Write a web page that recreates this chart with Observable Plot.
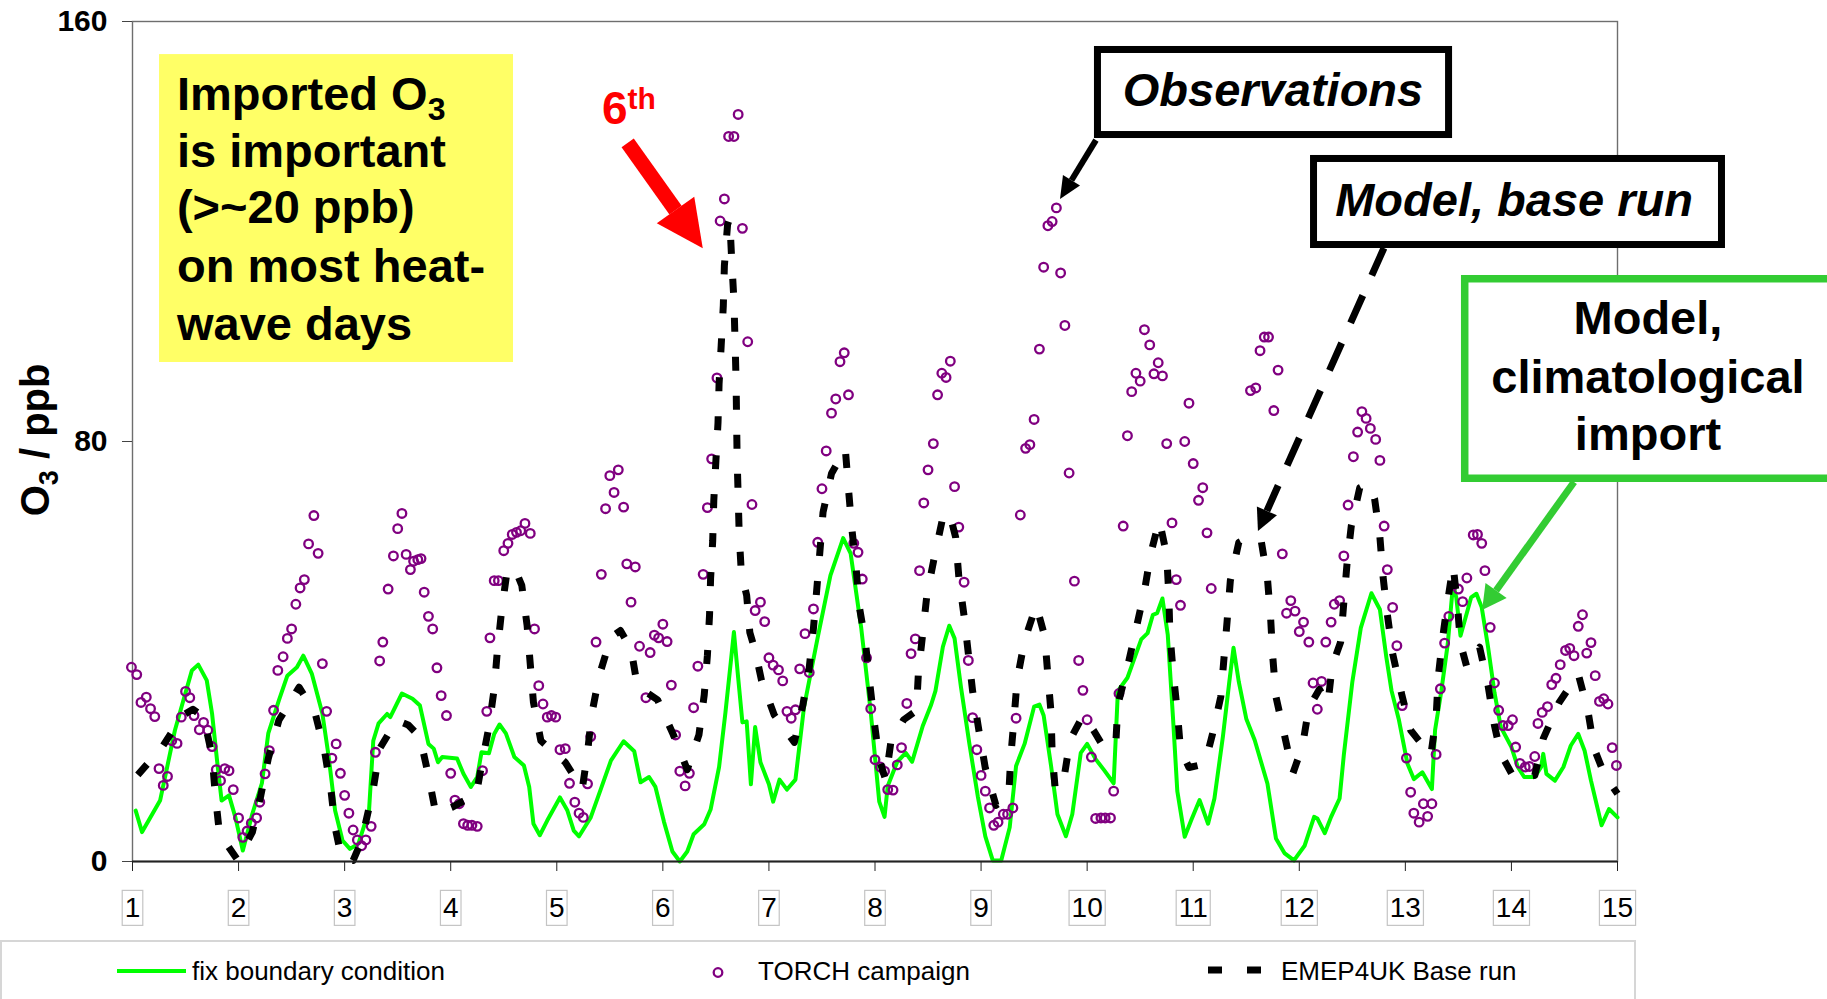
<!DOCTYPE html>
<html><head><meta charset="utf-8">
<script src="https://cdn.jsdelivr.net/npm/d3@7"></script>
<script src="https://cdn.jsdelivr.net/npm/@observablehq/plot@0.6"></script>
<style>
html,body{margin:0;padding:0;background:#fff;}
#wrap{position:relative;width:1827px;height:999px;overflow:hidden;}
</style></head><body><div id="wrap"></div>
<script>
const FONT = "'Liberation Sans', Arial, Helvetica, sans-serif";
const dayTicks = d3.range(1, 16);
const yTicks = [0, 80, 160];
const seriesNames = ["fix boundary condition", "TORCH campaign", "EMEP4UK Base run"];

// Model, climatological import (fix boundary condition): [day, ppb]
const fixBC = [[1.03,9.7],[1.09,5.6],[1.26,11.6],[1.40,25.0],[1.48,30.7],[1.56,36.4],[1.62,37.5],[1.70,34.5],[1.75,28.2],[1.80,18.7],[1.84,11.6],[1.91,12.6],[1.97,8.4],[2.04,2.1],[2.13,9.1],[2.22,14.9],[2.28,24.4],[2.38,30.7],[2.46,35.4],[2.55,37.0],[2.61,39.2],[2.69,35.8],[2.79,28.2],[2.85,19.9],[2.91,9.7],[2.98,4.0],[3.05,2.4],[3.13,3.4],[3.23,9.7],[3.27,23.0],[3.32,26.3],[3.40,28.1],[3.43,27.5],[3.54,32.0],[3.64,31.0],[3.71,29.7],[3.79,22.4],[3.84,21.5],[3.88,18.9],[3.92,19.9],[4.06,19.6],[4.12,16.7],[4.19,14.2],[4.25,16.1],[4.29,20.8],[4.36,20.6],[4.41,24.3],[4.46,26.1],[4.52,24.4],[4.60,19.9],[4.69,18.3],[4.74,14.2],[4.78,7.2],[4.84,5.0],[4.91,7.8],[5.03,12.2],[5.10,9.7],[5.16,5.9],[5.21,4.8],[5.32,8.4],[5.41,13.5],[5.51,19.2],[5.63,22.9],[5.73,21.0],[5.79,15.1],[5.87,16.1],[5.93,14.2],[6.01,7.6],[6.09,1.9],[6.16,0.0],[6.23,1.9],[6.29,5.2],[6.39,7.1],[6.45,9.9],[6.53,18.0],[6.59,28.4],[6.64,37.9],[6.67,43.7],[6.71,35.0],[6.75,26.5],[6.79,26.7],[6.83,14.7],[6.87,25.6],[6.92,18.9],[7.00,14.7],[7.04,11.4],[7.10,15.6],[7.17,13.7],[7.25,15.6],[7.33,29.3],[7.46,42.7],[7.58,54.5],[7.70,61.6],[7.77,58.7],[7.87,44.5],[7.96,28.4],[8.04,11.4],[8.09,8.5],[8.12,14.4],[8.21,19.0],[8.29,20.7],[8.35,19.0],[8.45,25.8],[8.53,29.9],[8.57,32.5],[8.64,40.9],[8.70,44.9],[8.75,42.5],[8.81,33.3],[8.89,22.4],[8.97,12.3],[9.04,4.8],[9.11,0.2],[9.19,0.2],[9.27,6.5],[9.33,18.2],[9.41,22.4],[9.50,29.5],[9.55,29.9],[9.59,27.8],[9.66,18.2],[9.72,9.0],[9.80,4.8],[9.86,9.0],[9.94,20.7],[10.00,22.4],[10.08,19.5],[10.16,17.4],[10.25,14.9],[10.29,32.5],[10.38,35.0],[10.51,42.3],[10.57,43.5],[10.62,47.0],[10.66,47.3],[10.71,50.1],[10.76,43.2],[10.81,27.2],[10.85,13.4],[10.92,4.7],[10.98,7.8],[11.06,11.7],[11.14,7.2],[11.20,12.0],[11.28,23.8],[11.34,34.2],[11.38,40.7],[11.43,34.2],[11.50,27.2],[11.58,23.1],[11.70,14.8],[11.78,4.4],[11.86,1.6],[11.95,0.2],[12.05,3.0],[12.14,8.5],[12.17,8.2],[12.24,5.4],[12.30,8.5],[12.38,12.0],[12.42,20.3],[12.50,34.2],[12.58,44.5],[12.68,51.1],[12.76,48.0],[12.82,39.0],[12.87,32.5],[12.94,26.9],[13.02,18.6],[13.08,15.7],[13.16,17.0],[13.25,13.8],[13.28,25.0],[13.34,32.6],[13.40,41.5],[13.45,52.9],[13.48,50.3],[13.52,43.0],[13.56,45.9],[13.62,50.3],[13.67,51.0],[13.72,48.4],[13.78,40.8],[13.84,32.2],[13.90,25.6],[14.00,21.8],[14.06,18.0],[14.12,16.1],[14.22,16.1],[14.28,18.0],[14.30,20.5],[14.33,16.7],[14.41,15.4],[14.49,18.0],[14.56,22.1],[14.63,24.3],[14.69,21.1],[14.75,15.4],[14.85,6.9],[14.92,10.0],[15.00,8.4]];

// Observations (TORCH campaign): [day, ppb]
const torch = [[0.99,37.0],[1.04,35.6],[1.08,30.3],[1.13,31.3],[1.17,29.1],[1.21,27.6],[1.25,17.7],[1.29,14.5],[1.33,16.2],[1.37,23.0],[1.42,22.5],[1.46,27.5],[1.50,32.4],[1.54,31.2],[1.58,27.8],[1.63,25.1],[1.67,26.5],[1.71,25.0],[1.75,21.9],[1.79,17.5],[1.83,15.4],[1.87,17.7],[1.91,17.3],[1.95,13.7],[2.00,8.3],[2.04,4.6],[2.08,5.8],[2.12,7.3],[2.17,8.3],[2.20,11.3],[2.25,16.7],[2.29,21.1],[2.33,28.8],[2.37,36.4],[2.42,39.0],[2.46,42.5],[2.50,44.3],[2.54,49.0],[2.58,52.1],[2.62,53.7],[2.66,60.5],[2.71,65.9],[2.75,58.7],[2.79,37.7],[2.83,28.6],[2.88,19.7],[2.92,22.4],[2.96,16.8],[3.00,12.6],[3.04,9.2],[3.08,6.0],[3.12,4.1],[3.16,3.0],[3.20,4.1],[3.25,6.7],[3.29,20.8],[3.33,38.2],[3.36,41.8],[3.41,51.9],[3.46,58.2],[3.50,63.4],[3.54,66.3],[3.58,58.5],[3.62,55.6],[3.65,57.2],[3.69,57.5],[3.72,57.7],[3.75,51.3],[3.79,46.7],[3.83,44.3],[3.87,36.9],[3.91,31.6],[3.96,27.8],[4.00,16.8],[4.04,11.7],[4.08,11.0],[4.12,7.2],[4.16,6.9],[4.20,6.9],[4.25,6.7],[4.30,17.3],[4.34,28.6],[4.37,42.6],[4.41,53.5],[4.45,53.5],[4.50,59.2],[4.54,60.6],[4.58,62.3],[4.62,62.7],[4.66,63.0],[4.70,64.4],[4.75,62.5],[4.79,44.3],[4.83,33.5],[4.87,30.0],[4.91,27.5],[4.95,27.8],[4.99,27.5],[5.03,21.3],[5.08,21.5],[5.12,14.9],[5.17,11.3],[5.21,9.2],[5.25,8.4],[5.29,14.8],[5.32,23.8],[5.37,41.8],[5.42,54.7],[5.46,67.2],[5.50,73.5],[5.54,70.3],[5.58,74.6],[5.63,67.5],[5.66,56.7],[5.70,49.4],[5.74,56.1],[5.78,41.0],[5.84,31.2],[5.88,39.8],[5.92,43.1],[5.96,42.6],[6.00,45.2],[6.04,41.9],[6.08,33.6],[6.12,24.1],[6.16,17.2],[6.21,14.4],[6.25,16.8],[6.29,29.3],[6.33,37.2],[6.38,54.7],[6.42,67.4],[6.46,76.7],[6.51,92.1],[6.54,122.0],[6.58,126.2],[6.62,138.1],[6.67,138.1],[6.71,142.3],[6.75,120.6],[6.80,99.0],[6.84,68.0],[6.87,47.8],[6.92,49.4],[6.96,45.7],[7.00,38.8],[7.04,37.4],[7.09,36.5],[7.13,34.4],[7.17,28.6],[7.21,27.3],[7.25,28.9],[7.29,36.7],[7.34,43.4],[7.38,36.0],[7.42,48.1],[7.46,60.8],[7.50,71.0],[7.54,78.2],[7.59,85.4],[7.63,88.1],[7.67,95.2],[7.71,96.9],[7.75,88.9],[7.80,60.6],[7.84,58.9],[7.88,53.8],[7.92,38.8],[7.96,29.1],[8.00,19.4],[8.05,18.0],[8.09,17.2],[8.12,13.7],[8.17,13.6],[8.21,18.4],[8.25,21.7],[8.30,30.1],[8.34,39.6],[8.38,42.4],[8.42,55.4],[8.46,68.3],[8.50,74.6],[8.55,79.6],[8.59,88.9],[8.63,93.0],[8.67,92.2],[8.71,95.3],[8.75,71.4],[8.79,63.7],[8.84,53.2],[8.88,38.3],[8.92,27.4],[8.96,21.3],[9.00,16.4],[9.04,13.4],[9.08,10.2],[9.12,6.9],[9.16,7.5],[9.21,9.0],[9.25,9.0],[9.30,10.2],[9.33,27.3],[9.37,66.0],[9.42,78.7],[9.46,79.4],[9.50,84.2],[9.55,97.6],[9.59,113.2],[9.63,121.1],[9.67,121.9],[9.71,124.5],[9.75,112.1],[9.79,102.1],[9.83,74.0],[9.88,53.4],[9.92,38.3],[9.96,32.6],[10.00,27.0],[10.04,19.9],[10.08,8.2],[10.13,8.3],[10.17,8.3],[10.22,8.3],[10.25,13.4],[10.30,32.0],[10.34,63.9],[10.38,81.1],[10.42,89.5],[10.46,93.0],[10.50,91.5],[10.54,101.3],[10.59,98.4],[10.63,92.9],[10.67,95.0],[10.71,92.5],[10.75,79.6],[10.80,64.5],[10.84,53.7],[10.88,48.8],[10.92,80.0],[10.96,87.3],[11.00,75.8],[11.05,68.8],[11.09,71.2],[11.13,62.6],[11.17,52.0],[11.54,89.7],[11.59,90.2],[11.63,97.3],[11.67,99.9],[11.71,99.9],[11.76,85.9],[11.80,93.6],[11.84,58.6],[11.88,47.3],[11.92,49.7],[11.96,47.7],[12.00,43.8],[12.04,45.6],[12.09,41.8],[12.13,34.0],[12.17,29.0],[12.21,34.3],[12.25,41.8],[12.30,45.6],[12.33,49.0],[12.38,49.7],[12.42,58.2],[12.46,67.9],[12.51,77.1],[12.55,81.8],[12.59,85.7],[12.63,84.4],[12.67,82.5],[12.72,80.4],[12.76,76.4],[12.80,63.9],[12.83,55.6],[12.88,48.4],[12.92,41.1],[12.97,29.7],[13.01,19.7],[13.05,13.2],[13.08,9.2],[13.13,7.5],[13.17,11.0],[13.21,8.6],[13.25,11.0],[13.29,20.4],[13.33,32.9],[13.37,41.6],[13.41,46.7],[13.45,52.6],[13.50,51.9],[13.54,49.5],[13.58,54.0],[13.64,62.2],[13.68,62.3],[13.72,60.6],[13.75,55.4],[13.80,44.6],[13.84,34.0],[13.88,28.8],[13.92,25.9],[13.97,25.9],[14.01,27.0],[14.04,21.8],[14.08,18.7],[14.13,18.0],[14.17,18.1],[14.22,20.0],[14.25,26.3],[14.29,28.4],[14.34,29.5],[14.38,33.7],[14.42,34.9],[14.46,37.5],[14.51,40.2],[14.55,40.6],[14.59,39.2],[14.63,44.8],[14.67,47.0],[14.71,39.7],[14.75,41.7],[14.79,35.4],[14.83,30.5],[14.87,31.0],[14.91,30.0],[14.95,21.7],[14.99,18.3]];

// Model, base run (EMEP4UK): [day, ppb]
const baseRun = [[1.05,16.5],[1.28,21.8],[1.47,27.8],[1.57,29.0],[1.67,27.5],[1.75,20.2],[1.78,12.9],[1.82,5.3],[1.99,0.3],[2.13,5.6],[2.21,12.6],[2.28,19.6],[2.38,26.9],[2.57,33.2],[2.72,28.4],[2.81,21.1],[2.87,13.8],[2.91,6.5],[2.97,0.8],[3.08,0.2],[3.16,4.0],[3.27,13.8],[3.33,21.5],[3.49,26.9],[3.60,26.0],[3.71,23.7],[3.79,16.4],[3.86,9.1],[4.01,10.3],[4.12,11.5],[4.24,12.6],[4.29,18.3],[4.36,25.6],[4.41,32.9],[4.44,40.2],[4.48,47.8],[4.53,55.1],[4.60,56.0],[4.67,52.6],[4.72,45.0],[4.75,37.6],[4.78,30.3],[4.85,23.0],[5.08,18.9],[5.24,13.8],[5.29,20.8],[5.33,28.1],[5.40,35.4],[5.51,42.7],[5.60,44.0],[5.70,40.5],[5.76,33.4],[5.95,30.8],[6.10,24.1],[6.23,17.5],[6.34,24.1],[6.39,31.7],[6.42,39.3],[6.44,46.9],[6.45,53.9],[6.47,61.1],[6.48,68.7],[6.50,76.3],[6.52,83.6],[6.53,91.0],[6.55,98.3],[6.57,105.9],[6.58,113.5],[6.61,121.3],[6.63,122.5],[6.65,114.2],[6.67,106.9],[6.68,99.5],[6.69,91.9],[6.695,84.3],[6.70,76.9],[6.71,69.6],[6.72,62.2],[6.74,54.9],[6.79,50.7],[6.82,43.6],[6.87,40.2],[6.93,34.5],[7.05,27.9],[7.24,22.7],[7.32,29.8],[7.38,36.9],[7.42,44.5],[7.45,51.6],[7.48,58.9],[7.51,66.5],[7.59,73.9],[7.72,78.6],[7.75,71.0],[7.78,63.7],[7.82,56.4],[7.85,48.8],[7.91,41.7],[7.95,34.1],[7.99,27.0],[8.04,19.4],[8.10,15.6],[8.15,22.8],[8.27,27.0],[8.39,28.7],[8.41,36.2],[8.45,43.4],[8.49,50.9],[8.56,58.0],[8.64,65.6],[8.70,66.5],[8.76,61.8],[8.79,54.3],[8.84,46.7],[8.88,39.6],[8.92,32.5],[8.98,24.9],[9.04,17.8],[9.14,10.7],[9.26,12.3],[9.28,19.9],[9.31,27.0],[9.34,34.6],[9.41,42.1],[9.52,48.8],[9.60,42.9],[9.63,35.4],[9.66,28.3],[9.67,20.7],[9.70,13.6],[9.78,15.7],[9.84,23.2],[9.96,27.8],[10.06,25.0],[10.16,21.6],[10.27,22.4],[10.29,29.9],[10.38,37.0],[10.46,44.2],[10.54,51.5],[10.60,58.7],[10.68,65.0],[10.75,58.4],[10.77,50.8],[10.78,43.5],[10.81,36.2],[10.85,28.6],[10.88,21.4],[10.96,17.9],[11.11,18.6],[11.18,24.1],[11.26,31.4],[11.29,38.7],[11.32,45.9],[11.35,53.5],[11.43,60.8],[11.55,62.0],[11.64,61.2],[11.70,53.9],[11.73,46.3],[11.75,39.0],[11.78,31.4],[11.86,24.1],[11.94,16.8],[12.03,22.0],[12.09,29.3],[12.19,32.8],[12.27,30.0],[12.31,37.3],[12.39,41.8],[12.42,49.4],[12.45,56.7],[12.49,63.9],[12.57,71.2],[12.65,72.0],[12.71,69.1],[12.76,61.8],[12.79,54.2],[12.83,47.1],[12.88,39.6],[12.96,32.3],[13.05,25.0],[13.24,20.2],[13.29,27.5],[13.31,35.1],[13.35,42.4],[13.40,49.7],[13.45,56.4],[13.49,49.1],[13.52,41.5],[13.58,37.0],[13.70,40.8],[13.78,33.5],[13.84,25.9],[13.90,20.5],[14.03,15.7],[14.22,16.4],[14.30,23.4],[14.45,30.3],[14.63,35.7],[14.72,28.8],[14.78,21.5],[14.88,16.4],[15.00,12.9]];

const chart = Plot.plot({
  width: 1827, height: 940,
  marginLeft: 132, marginRight: 210, marginTop: 21, marginBottom: 79,
  style: {fontFamily: FONT, background: "#fff", color: "#000", overflow: "visible"},
  x: {domain: [1, 15]},
  y: {domain: [0, 160]},
  marks: [
    Plot.frame({stroke: "#6e6e6e", strokeWidth: 1.4}),
    Plot.line(fixBC, {x: d => d[0], y: d => d[1], stroke: "#00ff00", strokeWidth: 4, strokeLinejoin: "round"}),
    Plot.dot(torch, {x: d => d[0], y: d => d[1], r: 4.3, stroke: "#800080", strokeWidth: 2.3, fill: "none"}),
    Plot.line(baseRun, {x: d => d[0], y: d => d[1], stroke: "#000", strokeWidth: 7, strokeDasharray: "14,25", strokeLinecap: "butt"}),
    Plot.ruleY([0], {stroke: "#222", strokeWidth: 2}),
    Plot.axisY({ticks: yTicks, tickSize: 10, tickPadding: 15, fontSize: 30, label: null, stroke: "#444"}),
    Plot.axisX({ticks: dayTicks, tickSize: 10, tickPadding: 26, fontSize: 28, label: null, tickFormat: d => String(d), stroke: "#222"})
  ]
});
const wrap = document.getElementById("wrap");
wrap.appendChild(chart);

const svg = d3.select(chart);
svg.selectAll('g[aria-label="y-axis tick label"] text').attr("font-weight", "bold");

// boxes around the day tick labels
svg.selectAll('g[aria-label="x-axis tick label"] text').each(function () {
  const bb = this.getBBox();
  const r = document.createElementNS("http://www.w3.org/2000/svg", "rect");
  r.setAttribute("x", bb.x - 2.5); r.setAttribute("y", bb.y - 2);
  r.setAttribute("width", bb.width + 5); r.setAttribute("height", bb.height + 4);
  r.setAttribute("fill", "#fff"); r.setAttribute("stroke", "#c4c4c4"); r.setAttribute("stroke-width", 1.2);
  const tr = this.getAttribute("transform"); if (tr) r.setAttribute("transform", tr);
  this.parentNode.insertBefore(r, this);
});

// annotations, anchored in data units through the chart scales
const sx = chart.scale("x"), sy = chart.scale("y");
const X = t => sx.apply(t), Y = v => sy.apply(v);
const g = svg.append("g").attr("font-family", FONT).attr("text-anchor", "start");

function box(t1, v1, t2, v2, stroke, sw, fill) {
  const x1 = X(t1), y1 = Y(v1), x2 = X(t2), y2 = Y(v2);
  g.append("rect").attr("x", x1 + sw / 2).attr("y", y1 + sw / 2)
    .attr("width", x2 - x1 - sw).attr("height", y2 - y1 - sw)
    .attr("fill", fill).attr("stroke", stroke).attr("stroke-width", sw);
}
function headPts(x0, y0, x1, y1, headW, headL) {
  const dx = x1 - x0, dy = y1 - y0, L = Math.hypot(dx, dy), ux = dx / L, uy = dy / L, nx = -uy, ny = ux;
  const bx = x1 - ux * headL, by = y1 - uy * headL;
  return {bx, by, pts: [[bx + nx * headW / 2, by + ny * headW / 2], [x1, y1], [bx - nx * headW / 2, by - ny * headW / 2]]};
}
function arrow(t0, v0, t1, v1, shaftW, headW, headL, color, dash) {
  const x0 = X(t0), y0 = Y(v0), x1 = X(t1), y1 = Y(v1);
  const h = headPts(x0, y0, x1, y1, headW, headL);
  g.append("line").attr("x1", x0).attr("y1", y0).attr("x2", h.bx).attr("y2", h.by)
    .attr("stroke", color).attr("stroke-width", shaftW).attr("stroke-dasharray", dash || null);
  g.append("polygon").attr("points", h.pts.map(p => p.join(",")).join(" ")).attr("fill", color);
}

// yellow message box
box(1.255, 153.7, 4.592, 95.05, "none", 0, "#ffff66");
const yl = [["Imported O", "3"], ["is important"], ["(>~20 ppb)"], ["on most heat-"], ["wave days"]];
const ylv = [143.05, 132.2, 121.5, 110.3, 99.2];
yl.forEach((parts, i) => {
  const tx = g.append("text").attr("x", X(1.424)).attr("y", Y(ylv[i])).attr("text-anchor", "start")
    .attr("font-size", 47).attr("font-weight", "bold").attr("fill", "#000");
  tx.append("tspan").text(parts[0]);
  if (parts[1]) tx.append("tspan").attr("font-size", 32).attr("dy", 10).text(parts[1]);
});

// red "6th" arrow
const six = g.append("text").attr("x", X(5.43)).attr("y", Y(140.4)).attr("text-anchor", "start")
  .attr("font-size", 46).attr("font-weight", "bold").attr("fill", "#ff0000");
six.append("tspan").text("6");
six.append("tspan").attr("font-size", 30).attr("dy", -15).text("th");
arrow(5.673, 136.8, 6.381, 116.7, 15, 46, 47, "#ff0000");

// Observations label
box(10.069, 155.24, 13.445, 137.71, "#000", 7, "#fff");
g.append("text").attr("x", X(11.757)).attr("y", Y(143.8)).attr("text-anchor", "middle")
  .attr("font-size", 47).attr("font-weight", "bold").attr("font-style", "italic").text("Observations");
arrow(10.088, 137.3, 9.749, 126.1, 6, 20, 22, "#000");

// Model, base run label
box(12.106, 134.48, 16.018, 116.76, "#000", 7, "#fff");
g.append("text").attr("x", X(14.03)).attr("y", Y(122.86)).attr("text-anchor", "middle")
  .attr("font-size", 47).attr("font-weight", "bold").attr("font-style", "italic").text("Model, base run");
arrow(12.803, 116.76, 11.615, 62.86, 7, 22, 22, "#000", "30,22");

// Model, climatological import label
box(13.529, 111.62, 17.2, 72.19, "#33cc33", 7.5, "#fff");
[["Model,", 100.38], ["climatological", 89.14], ["import", 78.29]].forEach(([s, v]) => {
  g.append("text").attr("x", X(15.292)).attr("y", Y(v)).attr("text-anchor", "middle")
    .attr("font-size", 47).attr("font-weight", "bold").text(s);
});
arrow(14.595, 72.19, 13.728, 47.81, 7, 26, 24, "#33cc33");

// y-axis title  O3 / ppb
const yt = g.append("text").attr("transform", `translate(${X(0.2175)},${Y(80.2)}) rotate(-90)`)
  .attr("text-anchor", "middle").attr("font-size", 40).attr("font-weight", "bold");
yt.append("tspan").text("O");
yt.append("tspan").attr("font-size", 27).attr("dy", 9).text("3");
yt.append("tspan").attr("dy", -9).text(" / ppb");

// legend below the chart
const leg = d3.create("svg").attr("width", 1827).attr("height", 59).style("display", "block")
  .attr("font-family", FONT);
leg.append("rect").attr("x", 1).attr("y", 1).attr("width", 1634).attr("height", 90)
  .attr("fill", "none").attr("stroke", "#d6d6d6").attr("stroke-width", 2);
leg.append("line").attr("x1", 117).attr("x2", 186).attr("y1", 31).attr("y2", 31)
  .attr("stroke", "#00ff00").attr("stroke-width", 4);
leg.append("text").attr("x", 192).attr("y", 40).attr("font-size", 26).text(seriesNames[0]);
leg.append("circle").attr("cx", 718).attr("cy", 32.5).attr("r", 4.3)
  .attr("fill", "none").attr("stroke", "#800080").attr("stroke-width", 2.3);
leg.append("text").attr("x", 758).attr("y", 40).attr("font-size", 26).text(seriesNames[1]);
leg.append("line").attr("x1", 1208).attr("x2", 1261).attr("y1", 30).attr("y2", 30)
  .attr("stroke", "#000").attr("stroke-width", 7).attr("stroke-dasharray", "14,25");
leg.append("text").attr("x", 1281).attr("y", 40).attr("font-size", 26).text(seriesNames[2]);
wrap.appendChild(leg.node());
</script>
</body></html>
